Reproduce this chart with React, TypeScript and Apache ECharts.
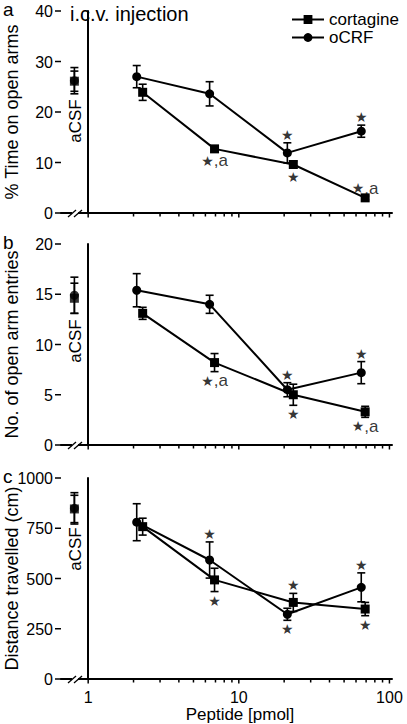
import React, { useEffect, useRef } from "react";
import * as echarts from "echarts";

const FONT = '"Liberation Sans", Arial, Helvetica, sans-serif';

// Doses (pmol)
const cortDoses = [2.3, 6.9, 23, 69];
const ocrfDoses = [2.1, 6.4, 21, 65];
const acsfDose = 0.81;

// x-axis ticks
const xMajorTicks = [1, 10, 100];
const xMinorTicks = [2, 3, 4, 5, 6, 7, 8, 9, 20, 30, 40, 50, 60, 70, 80, 90];

// Panel a: % time on open arms
const timeCort = [23.9, 12.7, 9.6, 3.0];
const timeCortErr = [1.6, 0.6, 0.7, 0.35];
const timeOcrf = [27.0, 23.6, 11.9, 16.2];
const timeOcrfErr = [2.2, 2.4, 2.0, 1.2];
const timeAcsf = [26.1, 26.2]; // cortagine, oCRF
const timeAcsfErr = [2.0, 2.6];

// Panel b: number of open arm entries
const entriesCort = [13.1, 8.2, 5.0, 3.3];
const entriesCortErr = [0.6, 0.9, 1.05, 0.55];
const entriesOcrf = [15.4, 14.0, 5.5, 7.2];
const entriesOcrfErr = [1.65, 0.9, 0.7, 1.1];
const entriesAcsf = [14.6, 14.9];
const entriesAcsfErr = [1.5, 1.8];

// Panel c: distance travelled (cm)
const distCort = [758, 493, 381, 348];
const distCortErr = [42, 58, 45, 33];
const distOcrf = [780, 592, 322, 456];
const distOcrfErr = [92, 90, 30, 72];
const distAcsf = [846, 849];
const distAcsfErr = [68, 78];

// Significance marks: [series, point index, text, side]
const notesA = [
  ["cort", 1, "★,a", "below"],
  ["ocrf", 2, "★", "above"],
  ["cort", 2, "★", "below"],
  ["ocrf", 3, "★", "above"],
  ["cort", 3, "★,a", "above"],
];
const notesB = [
  ["cort", 1, "★,a", "below"],
  ["ocrf", 2, "★", "above"],
  ["cort", 2, "★", "below"],
  ["ocrf", 3, "★", "above"],
  ["cort", 3, "★,a", "below"],
];
const notesC = [
  ["ocrf", 1, "★", "above"],
  ["cort", 1, "★", "below"],
  ["cort", 2, "★", "above"],
  ["ocrf", 2, "★", "below"],
  ["ocrf", 3, "★", "above"],
  ["cort", 3, "★", "below"],
];

const yMaxes = [40, 20, 1000];
const yIntervals = [10, 5, 250];
const yNames = ["% Time on open arms", "No. of open arm entries", "Distance travelled (cm)"];
const panelLetters = ["a", "b", "c"];

// layout
const GRID_LEFT = 61;
const GRID_RIGHT = 15;
const gridTops = [11, 244, 478];
const gridHeights = [202, 201, 201];
const acsfLabelY = [121, 341, 549];

const lg = (v: number) => Math.log10(v);

const errRender = (params: any, api: any) => {
  const x = api.value(0);
  const lo = api.value(1);
  const hi = api.value(2);
  const top = api.coord([x, hi]);
  const bot = api.coord([x, lo]);
  const w = 4;
  const style = { stroke: "#000", lineWidth: 1.6 };
  return {
    type: "group",
    children: [
      { type: "line", shape: { x1: top[0], y1: top[1], x2: bot[0], y2: bot[1] }, style },
      { type: "line", shape: { x1: top[0] - w, y1: top[1], x2: top[0] + w, y2: top[1] }, style },
      { type: "line", shape: { x1: bot[0] - w, y1: bot[1], x2: bot[0] + w, y2: bot[1] }, style },
    ],
  };
};

const textStyle = (text: string, align: string, vAlign: string) => ({
  text,
  fill: "#000",
  fontSize: 16,
  fontFamily: FONT,
  align,
  textAlign: align,
  verticalAlign: vAlign,
  textVerticalAlign: vAlign,
});

// x tick marks (and labels on the bottom panel): value = [logDose, isMajor, showLabel]
const xTickRender = (params: any, api: any) => {
  const v = api.value(0);
  const major = api.value(1);
  const showLabel = api.value(2);
  const p = api.coord([v, 0]);
  const children: any[] = [
    {
      type: "line",
      shape: { x1: p[0], y1: p[1], x2: p[0], y2: p[1] + (major ? 4.5 : 3.5) },
      style: { stroke: "#000", lineWidth: 1.5 },
    },
  ];
  if (major && showLabel) {
    children.push({
      type: "text",
      x: p[0],
      y: p[1] + 18,
      style: textStyle(String(Math.round(Math.pow(10, v))), "center", "middle"),
    });
  }
  return { type: "group", children };
};

// y tick marks and labels: value = [xMin, yValue]
const yTickRender = (params: any, api: any) => {
  const yv = api.value(1);
  const p = api.coord([api.value(0), yv]);
  return {
    type: "group",
    children: [
      {
        type: "line",
        shape: { x1: p[0] - 6, y1: p[1], x2: p[0], y2: p[1] },
        style: { stroke: "#000", lineWidth: 1.5 },
      },
      {
        type: "text",
        x: p[0] - 8,
        y: p[1] + 0.5,
        style: textStyle(String(yv), "right", "middle"),
      },
    ],
  };
};

function buildOption() {
  const panels = [
    { cort: timeCort, cortErr: timeCortErr, ocrf: timeOcrf, ocrfErr: timeOcrfErr, acsf: timeAcsf, acsfErr: timeAcsfErr, notes: notesA },
    { cort: entriesCort, cortErr: entriesCortErr, ocrf: entriesOcrf, ocrfErr: entriesOcrfErr, acsf: entriesAcsf, acsfErr: entriesAcsfErr, notes: notesB },
    { cort: distCort, cortErr: distCortErr, ocrf: distOcrf, ocrfErr: distOcrfErr, acsf: distAcsf, acsfErr: distAcsfErr, notes: notesC },
  ];

  const grid: any[] = [];
  const xAxis: any[] = [];
  const yAxis: any[] = [];
  const series: any[] = [];
  const graphic: any[] = [];

  const xMin = lg(0.66);
  const xMax = 2.017;

  panels.forEach((p, i) => {
    grid.push({
      left: GRID_LEFT,
      right: GRID_RIGHT,
      top: gridTops[i],
      height: gridHeights[i],
      containLabel: false,
      outerBoundsMode: "none",
    });
    const isBottom = i === 2;
    xAxis.push({
      type: "value",
      gridIndex: i,
      position: "bottom",
      min: xMin,
      max: xMax,
      splitLine: { show: false },
      axisLine: { show: true, onZero: false, lineStyle: { color: "#000", width: 2 } },
      axisTick: { show: false },
      axisLabel: { show: false },
      name: isBottom ? "Peptide [pmol]" : "",
      nameLocation: "middle",
      nameGap: 27,
      nameTextStyle: { color: "#000", fontSize: 17, fontFamily: FONT, padding: [0, 0, 0, 27] },
    });
    yAxis.push({
      type: "value",
      gridIndex: i,
      min: 0,
      max: yMaxes[i],
      interval: yIntervals[i],
      splitLine: { show: false },
      axisLine: { show: true, lineStyle: { color: "#000", width: 2 } },
      axisTick: { show: false },
      axisLabel: { show: false },
      name: yNames[i],
      nameLocation: "middle",
      nameGap: 40,
      nameTextStyle: { color: "#000", fontSize: 18, fontFamily: FONT },
    });

    const common = { xAxisIndex: i, yAxisIndex: i };

    // axis ticks and tick labels
    series.push({
      ...common,
      type: "custom",
      renderItem: xTickRender,
      clip: false,
      silent: true,
      z: 1,
      data: [
        ...xMajorTicks.map((t) => [lg(t), 1, isBottom ? 1 : 0]),
        ...xMinorTicks.map((t) => [lg(t), 0, 0]),
      ],
    });
    const yTicks: number[][] = [];
    for (let v = 0; v <= yMaxes[i]; v += yIntervals[i]) yTicks.push([xMin, v]);
    series.push({
      ...common,
      type: "custom",
      renderItem: yTickRender,
      clip: false,
      silent: true,
      z: 1,
      data: yTicks,
    });

    // error bars
    series.push({
      ...common,
      type: "custom",
      renderItem: errRender,
      encode: { x: 0, y: [1, 2] },
      z: 2,
      silent: true,
      data: [
        ...cortDoses.map((d, k) => [lg(d), p.cort[k] - p.cortErr[k], p.cort[k] + p.cortErr[k]]),
        ...ocrfDoses.map((d, k) => [lg(d), p.ocrf[k] - p.ocrfErr[k], p.ocrf[k] + p.ocrfErr[k]]),
        ...p.acsf.map((v, k) => [lg(acsfDose), v - p.acsfErr[k], v + p.acsfErr[k]]),
      ],
    });

    series.push({
      ...common,
      name: "cortagine",
      type: "line",
      symbol: "rect",
      symbolSize: 9,
      z: 3,
      lineStyle: { color: "#000", width: 2 },
      itemStyle: { color: "#000" },
      data: cortDoses.map((d, k) => [lg(d), p.cort[k]]),
    });
    series.push({
      ...common,
      name: "oCRF",
      type: "line",
      symbol: "circle",
      symbolSize: 9,
      z: 3,
      lineStyle: { color: "#000", width: 2 },
      itemStyle: { color: "#000" },
      data: ocrfDoses.map((d, k) => [lg(d), p.ocrf[k]]),
    });
    series.push({
      ...common,
      type: "scatter",
      name: "aCSF oCRF",
      symbol: "circle",
      symbolSize: 9,
      z: 3,
      itemStyle: { color: "#000" },
      data: [[lg(acsfDose), p.acsf[1]]],
    });
    series.push({
      ...common,
      type: "scatter",
      name: "aCSF cortagine",
      symbol: "rect",
      symbolSize: 9,
      z: 3,
      itemStyle: { color: "#000" },
      data: [[lg(acsfDose), p.acsf[0]]],
    });

    // significance marks
    series.push({
      ...common,
      type: "scatter",
      name: "marks",
      symbolSize: 0.1,
      z: 5,
      silent: true,
      itemStyle: { color: "rgba(0,0,0,0)" },
      data: p.notes.map(([key, idx, text, side]: any) => {
        const doses = key === "cort" ? cortDoses : ocrfDoses;
        const vals = key === "cort" ? p.cort : p.ocrf;
        const errs = key === "cort" ? p.cortErr : p.ocrfErr;
        const y = side === "above" ? vals[idx] + errs[idx] : vals[idx] - errs[idx];
        return {
          value: [lg(doses[idx]), y],
          label: {
            show: true,
            position: side === "above" ? "top" : "bottom",
            distance: side === "above" ? 1 : 2,
            formatter: text.replace("★", "{s|★}"),
            color: "#000",
            fontSize: 17,
            fontFamily: FONT,
            lineHeight: 14,
            rich: { s: { fontSize: 14, fontFamily: "DejaVu Sans", color: "#000", lineHeight: 14 } },
          },
        };
      }),
    });

    const axisY = gridTops[i] + gridHeights[i];
    // axis break
    graphic.push({ type: "rect", shape: { x: 72, y: axisY - 2, width: 6, height: 4 }, style: { fill: "#fff" }, z: 100 });
    graphic.push({ type: "line", shape: { x1: 68, y1: axisY + 4, x2: 76, y2: axisY - 3 }, style: { stroke: "#000", lineWidth: 1.3 }, z: 101 });
    graphic.push({ type: "line", shape: { x1: 74, y1: axisY + 4, x2: 82, y2: axisY - 3 }, style: { stroke: "#000", lineWidth: 1.3 }, z: 101 });

    // panel letter
    graphic.push({
      type: "text",
      x: 3,
      y: gridTops[i] - 2,
      style: { text: panelLetters[i], fontSize: 19, fontFamily: FONT, fill: "#000", textVerticalAlign: "middle" },
      z: 100,
    });
    // aCSF label
    graphic.push({
      type: "text",
      x: 75,
      y: acsfLabelY[i],
      rotation: Math.PI / 2,
      style: { text: "aCSF", fontSize: 17, fontFamily: FONT, fill: "#000", textAlign: "center", textVerticalAlign: "middle" },
      z: 100,
    });
  });

  graphic.push({
    type: "text",
    x: 70,
    y: 14,
    style: { text: "i.c.v. injection", fontSize: 20, fontFamily: FONT, fill: "#000", textVerticalAlign: "middle" },
    z: 100,
  });

  return {
    animation: false,
    backgroundColor: "#fff",
    textStyle: { fontFamily: FONT },
    legend: {
      data: ["cortagine", "oCRF"],
      orient: "vertical",
      left: 286,
      top: 6,
      itemWidth: 32,
      itemHeight: 11,
      itemGap: 1,
      textStyle: { color: "#000", fontSize: 17, fontFamily: FONT },
      selectedMode: false,
    },
    grid,
    xAxis,
    yAxis,
    series,
    graphic,
  };
}

export default function App() {
  const ref = useRef<HTMLDivElement>(null);
  useEffect(() => {
    if (!ref.current) return;
    const chart = echarts.init(ref.current, undefined, { renderer: "svg" });
    chart.setOption(buildOption() as any);
    return () => chart.dispose();
  }, []);
  return <div ref={ref} style={{ position: "absolute", left: 0, top: 0, width: 407, height: 724 }} />;
}
